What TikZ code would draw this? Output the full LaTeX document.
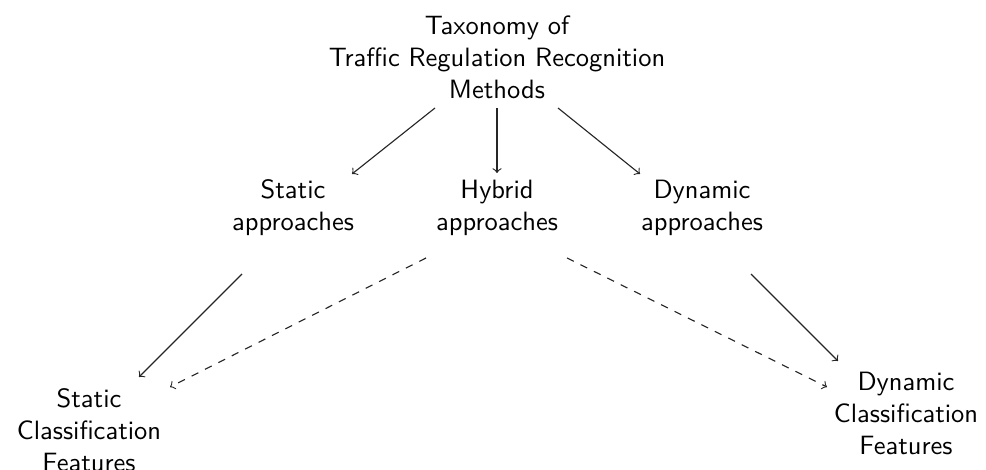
\documentclass[tikz,border=0pt]{standalone}
\usepackage{fontspec}
\usetikzlibrary{calc}
\begin{document}
\begin{tikzpicture}[x=0.4pt,y=-0.4pt,
  label/.style={font=\sffamily\fontsize{10.6pt}{12.8pt}\selectfont, align=center, inner sep=0pt},
  link/.style={->, draw=black!85, line width=0.45pt},
  weaklink/.style={link, dashed}]
\useasboundingbox (0,0) rectangle (986,470);

% taxonomy root
\node[label] (root) at (497,57) {Taxonomy of\\Traffic Regulation Recognition\\Methods};

% approach families
\node[label] (static)  at (293,208) {Static\\approaches};
\node[label] (hybrid)  at (497,208) {Hybrid\\approaches};
\node[label] (dynamic) at (702,208) {Dynamic\\approaches};

% feature classes
\node[label] (sfeat) at (89,430)  {Static\\Classification\\Features};
\node[label] (dfeat) at (906,413) {Dynamic\\Classification\\Features};

% root to families
\draw[link] ($(root)+(-62,51)$) -- ($(static)+(59,-34)$);
\draw[link] ($(root)+(0,51)$)   -- ($(hybrid)+(0,-35)$);
\draw[link] ($(root)+(61,51)$)  -- ($(dynamic)+(-62,-34)$);

% families to feature classes
\draw[link]     ($(static)+(-51,66)$)  -- ($(sfeat)+(50,-53)$);
\draw[weaklink] ($(hybrid)+(-71,50)$)  -- ($(sfeat)+(81,-43)$);
\draw[weaklink] ($(hybrid)+(70,50)$)   -- ($(dfeat)+(-79,-26)$);
\draw[link]     ($(dynamic)+(49,66)$)  -- ($(dfeat)+(-68,-52)$);
\end{tikzpicture}
\end{document}
